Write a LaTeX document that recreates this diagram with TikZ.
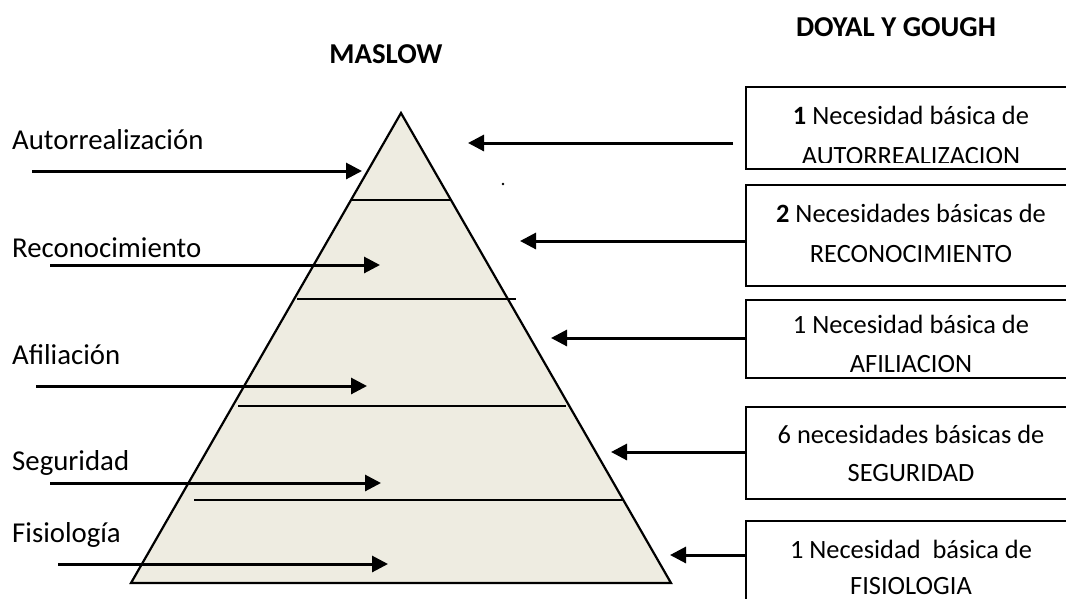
\documentclass[tikz,border=0pt]{standalone}
\usepackage{fontspec}
\setmainfont{Carlito}
\usetikzlibrary{arrows.meta}
\definecolor{sand}{HTML}{EEECE1}
\tikzset{
  arr/.style={line width=3pt,-{Triangle[length=16pt,width=16pt]}},
  levelline/.style={line width=2.5pt},
  needbox/.style={draw,line width=2.2pt,minimum width=328pt,inner sep=0pt},
  boxtxt/.style={anchor=base,inner sep=0pt,font=\fontsize{26.4}{32}\selectfont},
  lbl/.style={anchor=base west,inner sep=0pt,font=\fontsize{28.8}{34}\selectfont},
  ttl/.style={anchor=base,inner sep=0pt,font=\bfseries\fontsize{28.8}{34}\selectfont},
}
\begin{document}
\begin{tikzpicture}[x=1pt,y=-1pt]
\useasboundingbox (0,0) rectangle (1066,598);
\clip (0,0) rectangle (1066,598);

% titles
\node[ttl] (tmaslow) at (386,63) {MASLOW};
\node[ttl] (tdoyal) at (896,36) {DOYAL Y GOUGH};

% pyramid and its levels
\filldraw[fill=sand,line width=2.2pt] (401,113) -- (671,583) -- (131,583) -- cycle;
\draw[levelline] (351,200) -- (451,200);
\draw[levelline] (297,299) -- (516,299);
\draw[levelline] (238,406) -- (566,406);
\draw[levelline] (194,500) -- (623,500);
\fill (503,184) circle (1.4pt);

% Maslow levels on the left
\node[lbl] (l1) at (12,149) {Autorrealización};
\node[lbl] (l2) at (12,257) {Reconocimiento};
\node[lbl] (l3) at (12,364) {Afiliación};
\node[lbl] (l4) at (12,470) {Seguridad};
\node[lbl] (l5) at (12,542) {Fisiología};

\coordinate (ls1) at (32,171);  \coordinate (le1) at (362,171);
\coordinate (ls2) at (50,265);  \coordinate (le2) at (380,265);
\coordinate (ls3) at (36,386);  \coordinate (le3) at (367,386);
\coordinate (ls4) at (50,483);  \coordinate (le4) at (381,483);
\coordinate (ls5) at (58,564);  \coordinate (le5) at (388,564);
\foreach \i in {1,...,5} \draw[arr] (ls\i) -- (le\i);

% Doyal and Gough boxes on the right
\node[needbox,minimum height=82pt] (b1) at (910,128) {};
\node[needbox,minimum height=101pt] (b2) at (910,235.5) {};
\node[needbox,minimum height=78pt] (b3) at (910,339) {};
\node[needbox,minimum height=92pt] (b4) at (910,453) {};
\node[needbox,minimum height=89pt] (b5) at (910,565.5) {};

\node[boxtxt] (t1a) at (911,124) {\textbf{1} Necesidad básica de};
\begin{scope}
  \clip (746,87) rectangle (1074,162);
  \node[boxtxt] (t1b) at (911,164) {AUTORREALIZACION};
\end{scope}
\node[boxtxt] (t2a) at (911,222) {\textbf{2} Necesidades básicas de};
\node[boxtxt] (t2b) at (911,262) {RECONOCIMIENTO};
\node[boxtxt] (t3a) at (911,333) {1 Necesidad básica de};
\node[boxtxt] (t3b) at (911,372) {AFILIACION};
\node[boxtxt] (t4a) at (911,443) {6 necesidades básicas de};
\node[boxtxt] (t4b) at (911,481) {SEGURIDAD};
\node[boxtxt] (t5a) at (911,558) {1 Necesidad\ \ básica de};
\node[boxtxt] (t5b) at (911,594) {FISIOLOGIA};

\coordinate (rs1) at (733,143); \coordinate (re1) at (468,143);
\coordinate (re2) at (520,241);
\coordinate (re3) at (551,338);
\coordinate (re4) at (611,452);
\coordinate (re5) at (670,555);
\draw[arr] (rs1) -- (re1);
\draw[arr] (b2.west |- re2) -- (re2);
\draw[arr] (b3.west |- re3) -- (re3);
\draw[arr] (b4.west |- re4) -- (re4);
\draw[arr] (b5.west |- re5) -- (re5);
\end{tikzpicture}
\end{document}
